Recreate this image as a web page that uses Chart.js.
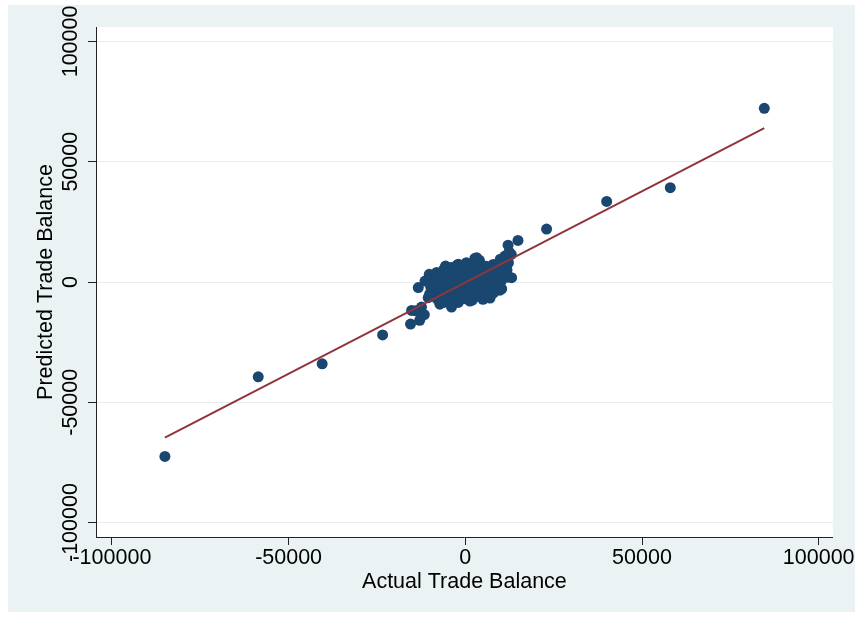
<!DOCTYPE html>
<html>
<head>
<meta charset="utf-8">
<title>Actual vs Predicted Trade Balance</title>
<script src="https://cdn.jsdelivr.net/npm/chart.js@4.4.1/dist/chart.umd.min.js"></script>
<style>
  html, body { margin: 0; padding: 0; background: #fff; }
  #wrap { width: 855px; height: 617px; }
</style>
</head>
<body>
<div id="wrap"><canvas id="tradeChart" width="855" height="617"></canvas></div>
<script>
// Observed trade balance (x) and model prediction (y), one entry per country
const actualX = [
  84600, 58000, 40000, 23000, -85000, -58600, -40500, -23400,
  14900, 12100, 13000, 11200, 13100, 9800, 10300, 3200, -2000, -2400,
  -5600, -10200, -13300, -11400, -3900, 1300, 5000, 4600, 6400,
  -15200, -12900, -15500, -14000, -12400, -10500, -8100, -6300, 7900, 9700, 11300,
  -10100, -9800, -10300,
  -8000, -7800, -8200, -7900, -8100,
  -6100, -5900, -6000, -6200, -5800, -6000,
  -4000, -4200, -3800, -4100, -3900, -4000,
  -2000, -2200, -1800, -2100, -1900, -2000,
  100, -200, 200, -100, 0, 300,
  2000, 2200, 1800, 2100, 1900, 2000,
  4000, 4200, 3800, 4100, 3900, 4000,
  6000, 6200, 5800, 6100, 5900,
  8000, 8200, 7800, 8100, 7900,
  10000, 10200, 9800, 10100, 9900,
  12000, 11800, 12200, 12400, -7200, 2700, 7000, -11600
];

const predictedY = [
  72200, 39200, 33500, 22000, -72500, -39400, -34000, -22000,
  17300, 15300, 11500, 10800, 1800, -3400, -2900, 10100, 7400, 6900,
  6600, 3200, -2300, 400, -10400, -7900, -7200, -6500, -4400,
  -11800, -15900, -17500, -12000, -10400, -6500, -3700, 1800, 7300, 8000, 5300,
  -5000, -2000, 1000,
  -7000, -4000, -1000, 2000, 4000,
  -8500, -5500, -2500, 500, 3500, 5500,
  -9000, -6000, -3000, 0, 3000, 6000,
  -8500, -5500, -2500, 500, 3500, 6500,
  -7000, -4000, -1000, 2000, 5000, 8000,
  -7500, -4500, -1500, 1500, 4500, 7500,
  -6000, -3000, 0, 3000, 6000, 9000,
  -5500, -2500, 500, 3500, 6500,
  -4500, -1500, 1500, 4500, 7000,
  -2500, 500, 3500, 6500, 9500,
  2000, 5000, 8000, 12500, -9200, 9800, -6700, -13600
];

// Fitted regression line, drawn across the observed range
const fitX = [-85000, 84600];
const fitY = [-64700, 64000];

const xTicks = [-100000, -50000, 0, 50000, 100000];
const yTicks = [-100000, -50000, 0, 50000, 100000];

const fontFamily = "'Liberation Sans', Arial, Helvetica, sans-serif";
const fontSize = 21.5;

// Light frame around the graph plus the white plot region
const graphBackground = {
  id: "graphBackground",
  beforeDraw(chart) {
    const { ctx, chartArea } = chart;
    ctx.save();
    ctx.fillStyle = "#eaf2f3";
    ctx.fillRect(8, 5, chart.width - 8, chart.height - 10);
    ctx.fillStyle = "#ffffff";
    ctx.fillRect(chartArea.left, chartArea.top, chartArea.right - chartArea.left, chartArea.bottom - chartArea.top);
    ctx.restore();
  }
};

// y tick labels run vertically, centred on each tick
const verticalYLabels = {
  id: "verticalYLabels",
  afterDraw(chart) {
    const { ctx } = chart;
    const scale = chart.scales.y;
    ctx.save();
    ctx.font = fontSize + "px " + fontFamily;
    ctx.fillStyle = "#000";
    ctx.textAlign = "center";
    ctx.textBaseline = "middle";
    scale.ticks.forEach(t => {
      const y = scale.getPixelForValue(t.value);
      ctx.save();
      ctx.translate(scale.right - 25, y);
      ctx.rotate(-Math.PI / 2);
      ctx.fillText(String(t.value), 0, 0);
      ctx.restore();
    });
    ctx.restore();
  }
};

const points = actualX.map((x, i) => ({ x: x, y: predictedY[i] }));
const fitLine = fitX.map((x, i) => ({ x: x, y: fitY[i] }));

const ctx = document.getElementById("tradeChart").getContext("2d");

new Chart(ctx, {
  type: "scatter",
  data: {
    datasets: [
      {
        type: "line",
        label: "Fitted values",
        data: fitLine,
        borderColor: "#90353b",
        borderWidth: 2,
        pointRadius: 0,
        fill: false,
        order: 0
      },
      {
        label: "Predicted Trade Balance",
        data: points,
        backgroundColor: "#1a476f",
        borderWidth: 0,
        pointRadius: 5.5,
        pointHoverRadius: 5.5,
        order: 1
      }
    ]
  },
  options: {
    responsive: false,
    animation: false,
    layout: { padding: { left: 33, right: 22, top: 27, bottom: 19 } },
    plugins: {
      legend: { display: false },
      tooltip: { enabled: false }
    },
    scales: {
      x: {
        type: "linear",
        min: -104500,
        max: 104000,
        afterBuildTicks: scale => { scale.ticks = xTicks.map(v => ({ value: v })); },
        afterFit: scale => { scale.height = 61; },
        border: { display: true, color: "#222", width: 1 },
        grid: { drawOnChartArea: false, drawTicks: true, tickLength: 8, tickColor: "#222", tickWidth: 1 },
        ticks: {
          color: "#000",
          padding: 0,
          maxRotation: 0,
          font: { family: fontFamily, size: fontSize },
          callback: v => String(v)
        },
        title: {
          display: true,
          text: "Actual Trade Balance",
          color: "#000",
          font: { family: fontFamily, size: fontSize },
          padding: { top: 0, bottom: 3 }
        }
      },
      y: {
        type: "linear",
        min: -106000,
        max: 106000,
        afterBuildTicks: scale => { scale.ticks = yTicks.map(v => ({ value: v })); },
        afterFit: scale => { scale.width = 63; },
        border: { display: true, color: "#222", width: 1 },
        grid: { color: "#e6eef1", lineWidth: 1, drawTicks: true, tickLength: 8, tickColor: "#222", tickWidth: 1 },
        ticks: { display: false },
        title: {
          display: true,
          text: "Predicted Trade Balance",
          color: "#000",
          font: { family: fontFamily, size: fontSize },
          padding: { top: 0, bottom: 0 }
        }
      }
    }
  },
  plugins: [graphBackground, verticalYLabels]
});
</script>
</body>
</html>
